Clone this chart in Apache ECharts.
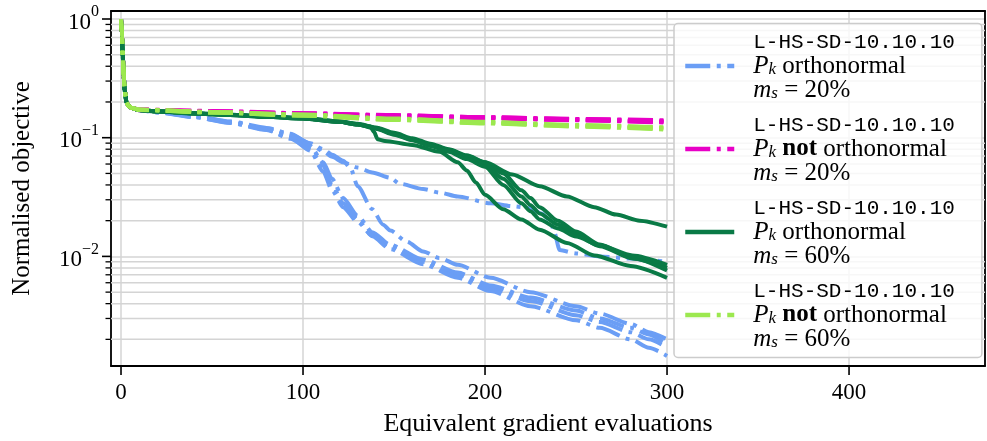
<!DOCTYPE html>
<html>
<head>
<meta charset="utf-8">
<script src="https://cdn.jsdelivr.net/npm/echarts@6/dist/echarts.min.js"></script>
<style>
html,body{margin:0;padding:0;background:#fff;}
#chart{width:987px;height:441px;}
</style>
</head>
<body>
<div id="chart"></div>
<script>
// ---------- data ----------
const xTicks = [0, 100, 200, 300, 400];
const yMajorTicks = [1, 0.1, 0.01];
const yMinorTicks = [0.002,0.003,0.004,0.005,0.006,0.007,0.008,0.009,
                     0.02,0.03,0.04,0.05,0.06,0.07,0.08,0.09,
                     0.2,0.3,0.4,0.5,0.6,0.7,0.8,0.9];

// initial drop shared by every run
const startX = [0, 0.5, 1, 1.5, 2, 3, 4, 6];
const startY = [1.0, 0.72, 0.48, 0.33, 0.25, 0.20, 0.186, 0.178];

// P_k orthonormal, m_s = 20%  (blue)
const blueX1 = [10,20,40,60,80,93,104,111,116,122,130,138,148,153,166,175,185,203,215,225,231,236,238,241,250,263,280,290,300];
const blueY1 = [0.172,0.166,0.153,0.137,0.121,0.108,0.089,0.077,0.069,0.062,0.056,0.051,0.046,0.041,0.037,0.0345,0.032,0.028,0.0265,0.0255,0.023,0.020,0.016,0.0113,0.0106,0.0100,0.0096,0.0093,0.0090];
const blueX2 = [10,20,40,60,80,93,104,111,116,122,126,130,138,144,148,157,166,175,185,203,225,250,263,280,290,300];
const blueY2 = [0.171,0.165,0.152,0.136,0.119,0.106,0.090,0.080,0.072,0.064,0.056,0.039,0.025,0.0185,0.0165,0.0133,0.0110,0.0097,0.0085,0.0066,0.0050,0.0038,0.0033,0.0027,0.0023,0.0020];
const blueX3 = [10,20,40,60,80,93,104,111,116,122,130,138,148,166,185,203,225,250,263,280,290,300];
const blueY3 = [0.171,0.164,0.150,0.134,0.117,0.100,0.078,0.052,0.036,0.026,0.0195,0.0150,0.0120,0.0090,0.0070,0.0054,0.0042,0.0032,0.0028,0.0023,0.0020,0.0017];
const blueY4 = [0.171,0.164,0.151,0.135,0.118,0.103,0.085,0.062,0.045,0.031,0.022,0.0160,0.0125,0.0094,0.0073,0.0057,0.0045,0.0035,0.0030,0.0025,0.0022,0.0018];
const blueY5 = [0.170,0.163,0.149,0.133,0.116,0.098,0.080,0.058,0.040,0.028,0.0205,0.0148,0.0115,0.0086,0.0066,0.0051,0.0038,0.0029,0.0025,0.0020,0.0017,0.00145];

// P_k not orthonormal, m_s = 20%  (magenta)
const flatX = [10, 50, 100, 150, 200, 250, 300];
const magY1 = [0.173,0.168,0.161,0.155,0.149,0.143,0.138];
const magY2 = [0.172,0.166,0.159,0.153,0.147,0.141,0.135];
const magY3 = [0.170,0.165,0.158,0.152,0.146,0.140,0.134];
const magY4 = [0.172,0.167,0.160,0.154,0.149,0.144,0.140];
const magY5 = [0.171,0.166,0.160,0.153,0.147,0.142,0.136];

// P_k orthonormal, m_s = 60%  (dark green)
const dgXA = [10,20,40,60,80,100,120,130,140,150,160,170,180,190,200,215,230,245,260,272,285,300];
const dgYA = [0.171,0.167,0.161,0.156,0.151,0.146,0.137,0.131,0.122,0.110,0.099,0.089,0.080,0.071,0.062,0.049,0.039,0.032,0.026,0.0225,0.020,0.0178];
const dgXB = [10,20,40,60,80,100,120,130,137,139,141,145,160,175,185,190,195,200,210,220,230,245,260,280,300];
const dgYB = [0.171,0.167,0.160,0.155,0.150,0.145,0.136,0.129,0.124,0.112,0.097,0.094,0.087,0.076,0.062,0.053,0.042,0.033,0.025,0.0205,0.0168,0.0130,0.0102,0.0083,0.0066];
const dgXC = [10,20,40,60,80,100,120,130,140,150,160,170,180,190,200,210,220,225,230,240,250,263,281,300];
const dgYC = [0.171,0.167,0.161,0.156,0.151,0.146,0.137,0.130,0.121,0.108,0.097,0.087,0.079,0.070,0.062,0.050,0.036,0.031,0.026,0.0200,0.0162,0.0126,0.0097,0.0076];
const dgYD = [0.170,0.166,0.160,0.155,0.150,0.145,0.136,0.129,0.120,0.107,0.096,0.086,0.078,0.069,0.060,0.045,0.032,0.027,0.023,0.0185,0.0152,0.0122,0.0096,0.0080];
const dgYE = [0.171,0.166,0.160,0.155,0.150,0.146,0.136,0.129,0.119,0.106,0.095,0.085,0.076,0.066,0.057,0.040,0.028,0.024,0.0205,0.0172,0.0147,0.0124,0.0102,0.0085];

// P_k not orthonormal, m_s = 60%  (light green)
const lgY1 = [0.173,0.164,0.156,0.144,0.135,0.127,0.121];
const lgY2 = [0.172,0.163,0.154,0.142,0.133,0.125,0.118];
const lgY3 = [0.172,0.165,0.157,0.145,0.136,0.128,0.122];
const lgY4 = [0.171,0.163,0.153,0.141,0.132,0.124,0.117];
const lgY5 = [0.172,0.164,0.155,0.143,0.134,0.126,0.120];

const NAME_B = 'orth20', NAME_M = 'notorth20', NAME_DG = 'orth60', NAME_LG = 'notorth60';
const legendText = {
  orth20:    '{tt|L-HS-SD-10.10.10}\n{it|P}{sub|k}{rm| orthonormal}\n{it|m}{sub|s}{rm| = 20%}',
  notorth20: '{tt|L-HS-SD-10.10.10}\n{it|P}{sub|k}{rm| }{bf|not}{rm| orthonormal}\n{it|m}{sub|s}{rm| = 20%}',
  orth60:    '{tt|L-HS-SD-10.10.10}\n{it|P}{sub|k}{rm| orthonormal}\n{it|m}{sub|s}{rm| = 60%}',
  notorth60: '{tt|L-HS-SD-10.10.10}\n{it|P}{sub|k}{rm| }{bf|not}{rm| orthonormal}\n{it|m}{sub|s}{rm| = 60%}'
};

// ---------- layout constants ----------
const X_MIN = -5.5, X_MAX = 474.7;
const Y_MIN = 0.001193, Y_MAX = 1.168;
const SERIF = "'Liberation Serif', 'Times New Roman', serif";
const MONO = "'Liberation Mono', 'DejaVu Sans Mono', monospace";
const COLORS = { orth20: '#6b9ef5', notorth20: '#e800c6', orth60: '#0a7a46', notorth60: '#9ce84f' };
const DASHDOT = [25, 6.5, 4, 6.5];

function pairs(xs, ys) {
  const out = [];
  for (let i = 0; i < startX.length; i++) out.push([startX[i], startY[i]]);
  for (let i = 0; i < xs.length; i++) out.push([xs[i], ys[i]]);
  return out;
}
function runSeries(name, xs, ys, dashed) {
  return {
    type: 'line', name: name, data: pairs(xs, ys),
    xAxisIndex: 0, yAxisIndex: 0,
    showSymbol: false, symbol: 'none', z: 3,
    smooth: 0.25, smoothMonotone: 'x',
    color: COLORS[name],
    lineStyle: { color: COLORS[name], width: 4, type: dashed ? DASHDOT : 'solid', cap: 'butt', join: 'round' },
    emphasis: { disabled: true }, silent: true
  };
}

const series = [
  runSeries(NAME_B, blueX1, blueY1, true),
  runSeries(NAME_B, blueX2, blueY2, true),
  runSeries(NAME_B, blueX3, blueY3, true),
  runSeries(NAME_B, blueX3, blueY4, true),
  runSeries(NAME_B, blueX3, blueY5, true),
  runSeries(NAME_M, flatX, magY1, true),
  runSeries(NAME_M, flatX, magY2, true),
  runSeries(NAME_M, flatX, magY3, true),
  runSeries(NAME_M, flatX, magY4, true),
  runSeries(NAME_M, flatX, magY5, true),
  runSeries(NAME_DG, dgXA, dgYA, false),
  runSeries(NAME_DG, dgXB, dgYB, false),
  runSeries(NAME_DG, dgXC, dgYC, false),
  runSeries(NAME_DG, dgXC, dgYD, false),
  runSeries(NAME_DG, dgXC, dgYE, false),
  runSeries(NAME_LG, flatX, lgY1, true),
  runSeries(NAME_LG, flatX, lgY2, true),
  runSeries(NAME_LG, flatX, lgY3, true),
  runSeries(NAME_LG, flatX, lgY4, true),
  runSeries(NAME_LG, flatX, lgY5, true)
];

// minor grid lines + minor ticks on the y axis
series.push({
  type: 'custom', coordinateSystem: 'cartesian2d', xAxisIndex: 0, yAxisIndex: 0,
  silent: true, z: 1, clip: false,
  data: yMinorTicks.map(v => [X_MIN, v]),
  renderItem: function (params, api) {
    const p = api.coord([X_MIN, api.value(1)]);
    const q = api.coord([X_MAX, api.value(1)]);
    return { type: 'group', children: [
      { type: 'line', shape: { x1: p[0], y1: p[1], x2: q[0], y2: p[1] }, style: { stroke: '#d4d4d4', lineWidth: 1.5 } },
      { type: 'line', shape: { x1: p[0] - 5.5, y1: p[1], x2: p[0], y2: p[1] }, style: { stroke: '#000', lineWidth: 1.3 } }
    ] };
  }
});
// major ticks on the y axis
series.push({
  type: 'custom', coordinateSystem: 'cartesian2d', xAxisIndex: 0, yAxisIndex: 0,
  silent: true, z: 5, clip: false,
  data: yMajorTicks.map(v => [X_MIN, v]),
  renderItem: function (params, api) {
    const p = api.coord([X_MIN, api.value(1)]);
    return { type: 'line', shape: { x1: p[0] - 9, y1: p[1], x2: p[0], y2: p[1] }, style: { stroke: '#000', lineWidth: 1.6 } };
  }
});
// ticks on the x axis
series.push({
  type: 'custom', coordinateSystem: 'cartesian2d', xAxisIndex: 0, yAxisIndex: 0,
  silent: true, z: 5, clip: false,
  data: xTicks.map(v => [v, Y_MIN]),
  renderItem: function (params, api) {
    const p = api.coord([api.value(0), Y_MIN]);
    return { type: 'line', shape: { x1: p[0], y1: p[1], x2: p[0], y2: p[1] + 9 }, style: { stroke: '#000', lineWidth: 1.6 } };
  }
});

const isPow10 = v => { const l = Math.log10(v); return Math.abs(l - Math.round(l)) < 1e-6; };

const option = {
  animation: false,
  backgroundColor: '#fff',
  grid: { left: 111, right: 2, top: 11, bottom: 75, outerBoundsMode: 'none', containLabel: false, show: false },
  xAxis: [{
    type: 'value', min: X_MIN, max: X_MAX,
    axisLine: { show: true, onZero: false, lineStyle: { color: '#000', width: 1.8 } },
    axisTick: { show: false },
    axisLabel: {
      margin: 15, color: '#000', fontFamily: SERIF, fontSize: 23,
      formatter: v => (Math.abs(v - Math.round(v / 100) * 100) < 1e-6 && v >= 0 ? String(Math.round(v)) : '')
    },
    splitLine: { show: true, lineStyle: { color: '#d4d4d4', width: 1.5 } },
    name: 'Equivalent gradient evaluations', nameLocation: 'middle', nameGap: 45,
    nameTextStyle: { color: '#000', fontFamily: SERIF, fontSize: 26 }
  }, {
    type: 'value', position: 'top', min: X_MIN, max: X_MAX,
    axisLine: { show: true, onZero: false, lineStyle: { color: '#000', width: 1.8 } },
    axisTick: { show: false }, axisLabel: { show: false }, splitLine: { show: false }
  }],
  yAxis: [{
    type: 'log', logBase: 10, min: Y_MIN, max: Y_MAX,
    axisLine: { show: true, onZero: false, lineStyle: { color: '#000', width: 1.8 } },
    axisTick: { show: false },
    minorTick: { show: false },
    axisLabel: {
      margin: 12, color: '#000', fontFamily: SERIF,
      formatter: v => {
        if (!isPow10(v)) return '';
        const e = Math.round(Math.log10(v));
        return '{b|10}{s|' + (e < 0 ? '\u2212' + (-e) : String(e)) + '}';
      },
      rich: {
        b: { fontFamily: SERIF, fontSize: 23, lineHeight: 30, verticalAlign: 'bottom', color: '#000' },
        s: { fontFamily: SERIF, fontSize: 16, lineHeight: 10, verticalAlign: 'top', color: '#000' }
      }
    },
    splitLine: { show: true, lineStyle: { color: '#d4d4d4', width: 1.5 } },
    name: 'Normalised objective', nameLocation: 'middle', nameGap: 76,
    nameTextStyle: { color: '#000', fontFamily: SERIF, fontSize: 25 }
  }, {
    type: 'log', logBase: 10, position: 'right', min: Y_MIN, max: Y_MAX,
    axisLine: { show: true, onZero: false, lineStyle: { color: '#000', width: 1.8 } },
    axisTick: { show: false }, axisLabel: { show: false }, splitLine: { show: false }
  }],
  legend: {
    show: true, orient: 'vertical', left: 674, top: 23.5,
    data: [NAME_B, NAME_M, NAME_DG, NAME_LG],
    padding: [8, 27, 6, 9], itemGap: 12, itemWidth: 49, itemHeight: 14,
    backgroundColor: 'rgba(255,255,255,0.8)', borderColor: '#cccccc', borderWidth: 1.5, borderRadius: 4,
    itemStyle: { opacity: 0 },
    lineStyle: { width: 4.5, cap: 'butt' },
    selectedMode: false,
    formatter: name => legendText[name],
    textStyle: {
      color: '#000', fontFamily: SERIF, fontSize: 25, padding: [0, 0, 0, 14],
      rich: {
        tt: { fontFamily: MONO, fontSize: 21, lineHeight: 24, color: '#000' },
        rm: { fontFamily: SERIF, fontSize: 25, lineHeight: 24, color: '#000' },
        it: { fontFamily: SERIF, fontSize: 25, lineHeight: 24, fontStyle: 'italic', color: '#000' },
        bf: { fontFamily: SERIF, fontSize: 25, lineHeight: 24, fontWeight: 'bold', color: '#000' },
        sub: { fontFamily: SERIF, fontSize: 17, lineHeight: 12, fontStyle: 'italic', verticalAlign: 'bottom', color: '#000' }
      }
    }
  },
  series: series
};

const chart = echarts.init(document.getElementById('chart'), null, { renderer: 'canvas' });
chart.setOption(option);
</script>
</body>
</html>
